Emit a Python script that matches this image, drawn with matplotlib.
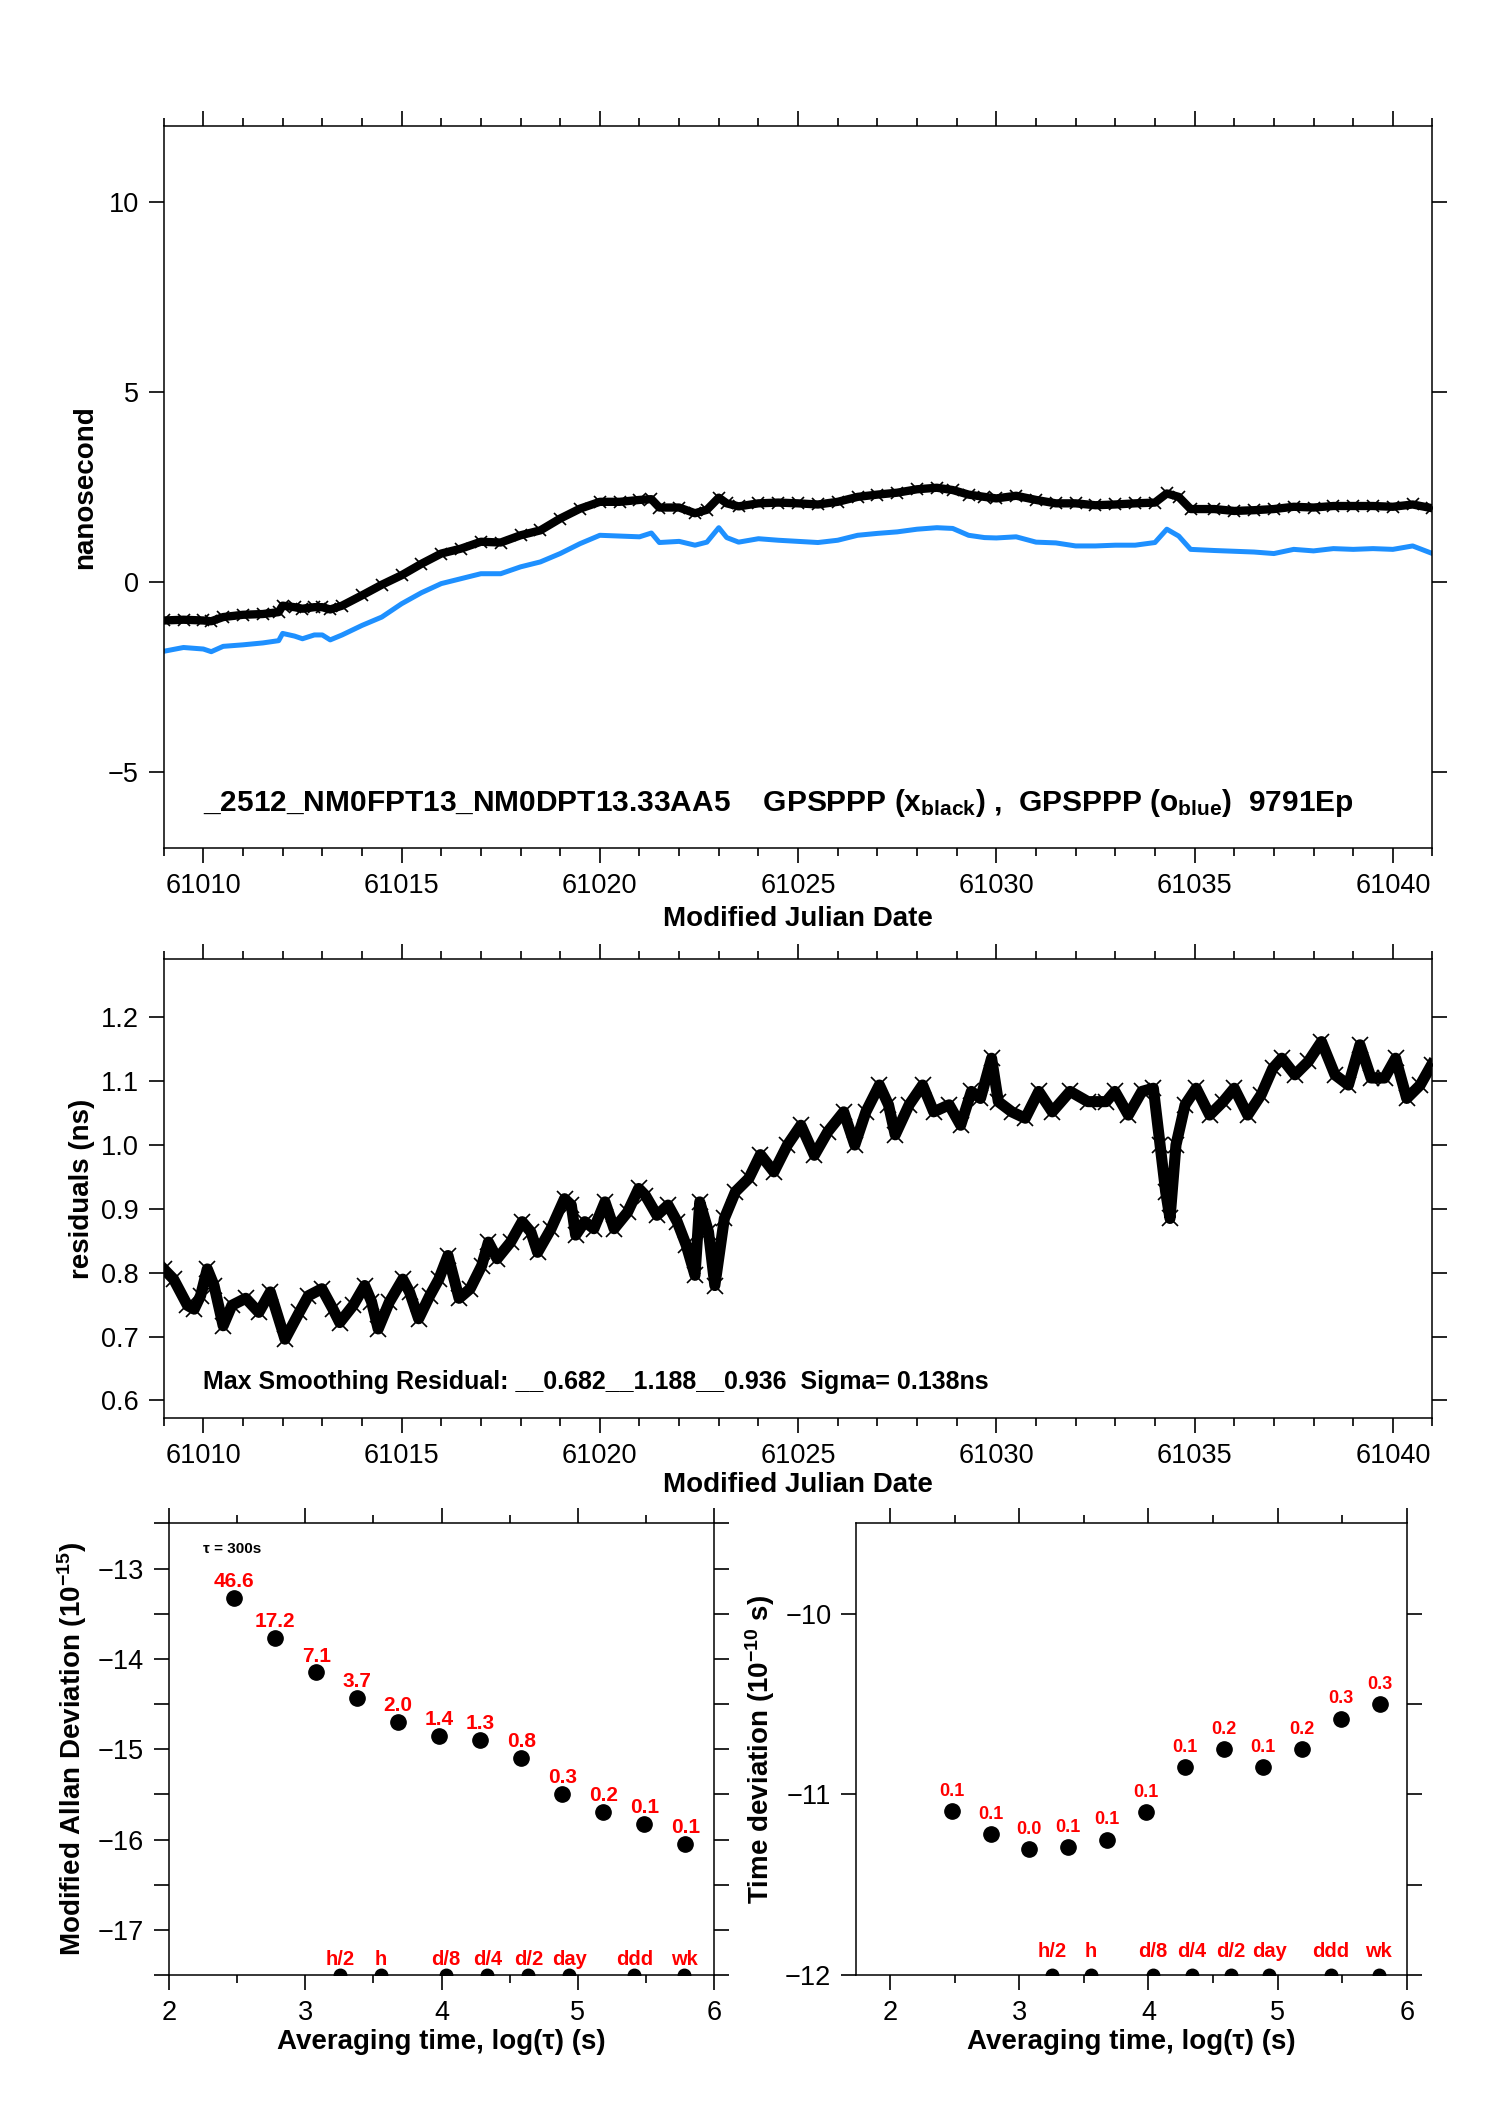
import matplotlib
matplotlib.use("Agg")
import matplotlib.pyplot as plt
import numpy as np

plt.rcParams['font.family'] = ['Liberation Sans', 'DejaVu Sans']
plt.rcParams['mathtext.fontset'] = 'custom'
plt.rcParams['mathtext.rm'] = 'Liberation Sans:bold'
plt.rcParams['mathtext.default'] = 'rm'

# ---- top panel: time offsets (ns) ----
mjd_top = [61009.0, 61009.5, 61010.0, 61010.2, 61010.5, 61011.0, 61011.5, 61011.9,
           61012.0, 61012.3, 61012.5, 61012.8, 61013.0, 61013.2, 61013.5, 61014.0,
           61014.5, 61015.0, 61015.5, 61016.0, 61016.5, 61017.0, 61017.5, 61018.0,
           61018.5, 61019.0, 61019.5, 61020.0, 61020.5, 61021.0, 61021.3, 61021.5,
           61022.0, 61022.4, 61022.7, 61023.0, 61023.2, 61023.5, 61024.0, 61024.5,
           61025.0, 61025.5, 61026.0, 61026.5, 61027.0, 61027.5, 61028.0, 61028.5,
           61028.9, 61029.3, 61029.7, 61030.0, 61030.5, 61031.0, 61031.5, 61032.0,
           61032.5, 61033.0, 61033.5, 61034.0, 61034.3, 61034.6, 61034.9, 61035.5,
           61036.0, 61036.5, 61037.0, 61037.5, 61038.0, 61038.5, 61039.0, 61039.5,
           61040.0, 61040.5, 61041.0]
black_ns = [-1.01, -0.99, -1.01, -1.03, -0.92, -0.86, -0.84, -0.79,
            -0.62, -0.66, -0.70, -0.66, -0.66, -0.72, -0.62, -0.35,
            -0.07, 0.18, 0.48, 0.75, 0.88, 1.06, 1.04, 1.23,
            1.36, 1.67, 1.93, 2.11, 2.11, 2.16, 2.18, 1.96,
            1.96, 1.81, 1.90, 2.22, 2.07, 1.99, 2.07, 2.09,
            2.07, 2.04, 2.11, 2.24, 2.30, 2.35, 2.44, 2.48,
            2.42, 2.30, 2.24, 2.20, 2.27, 2.16, 2.07, 2.07,
            2.02, 2.04, 2.07, 2.09, 2.33, 2.24, 1.92, 1.92,
            1.87, 1.89, 1.92, 1.98, 1.96, 2.00, 2.00, 2.00,
            1.98, 2.04, 1.94]
blue_ns = [-1.82, -1.72, -1.76, -1.83, -1.69, -1.65, -1.60, -1.54,
           -1.35, -1.42, -1.49, -1.39, -1.39, -1.52, -1.39, -1.14,
           -0.92, -0.57, -0.28, -0.04, 0.09, 0.22, 0.22, 0.40,
           0.53, 0.75, 1.01, 1.23, 1.21, 1.19, 1.29, 1.04,
           1.07, 0.97, 1.05, 1.43, 1.17, 1.05, 1.14, 1.10,
           1.07, 1.04, 1.10, 1.23, 1.28, 1.32, 1.39, 1.43,
           1.41, 1.23, 1.17, 1.16, 1.19, 1.05, 1.03, 0.95,
           0.95, 0.97, 0.97, 1.04, 1.39, 1.21, 0.86, 0.83,
           0.81, 0.79, 0.75, 0.86, 0.82, 0.88, 0.86, 0.88,
           0.86, 0.95, 0.75]

# ---- middle panel: residuals (ns) ----
mjd_res = [61009.0, 61009.25, 61009.6, 61009.77, 61009.93, 61010.1, 61010.27, 61010.5,
           61010.72, 61011.07, 61011.4, 61011.69, 61012.06, 61012.42, 61012.65, 61012.99,
           61013.27, 61013.44, 61013.78, 61014.07, 61014.24, 61014.41, 61014.69, 61015.03,
           61015.2, 61015.43, 61015.71, 61015.94, 61016.17, 61016.45, 61016.73, 61017.02,
           61017.19, 61017.41, 61017.75, 61018.04, 61018.26, 61018.43, 61018.77, 61019.11,
           61019.28, 61019.39, 61019.62, 61019.85, 61020.13, 61020.36, 61020.7, 61020.98,
           61021.15, 61021.44, 61021.72, 61021.95, 61022.18, 61022.4, 61022.52, 61022.74,
           61022.9, 61023.14, 61023.42, 61023.76, 61024.05, 61024.39, 61024.73, 61025.07,
           61025.41, 61025.75, 61026.15, 61026.43, 61026.71, 61027.05, 61027.28, 61027.45,
           61027.8, 61028.14, 61028.42, 61028.81, 61029.1, 61029.37, 61029.6, 61029.88,
           61030.05, 61030.39, 61030.73, 61031.07, 61031.41, 61031.86, 61032.31, 61032.77,
           61032.99, 61033.33, 61033.67, 61033.96, 61034.13, 61034.27, 61034.38, 61034.53,
           61034.76, 61035.04, 61035.38, 61035.72, 61036.0, 61036.34, 61036.68, 61036.97,
           61037.2, 61037.53, 61037.87, 61038.2, 61038.54, 61038.88, 61039.17, 61039.45,
           61039.79, 61040.07, 61040.35, 61040.69, 61040.98]
resid = [0.806, 0.79, 0.749, 0.743, 0.764, 0.806, 0.78, 0.717,
         0.749, 0.76, 0.738, 0.77, 0.696, 0.738, 0.764, 0.775,
         0.743, 0.722, 0.749, 0.78, 0.755, 0.712, 0.754, 0.79,
         0.77, 0.728, 0.764, 0.79, 0.827, 0.76, 0.775, 0.811,
         0.848, 0.822, 0.848, 0.88, 0.864, 0.832, 0.869, 0.916,
         0.906, 0.859, 0.88, 0.869, 0.911, 0.869, 0.895, 0.932,
         0.921, 0.89, 0.906, 0.88, 0.843, 0.796, 0.911, 0.864,
         0.78, 0.885, 0.927, 0.948, 0.985, 0.958, 1.0, 1.031,
         0.984, 1.021, 1.052, 1.0, 1.052, 1.094, 1.063, 1.016,
         1.063, 1.094, 1.052, 1.063, 1.031, 1.084, 1.073, 1.136,
         1.068, 1.052, 1.042, 1.084, 1.052, 1.084, 1.068, 1.068,
         1.084, 1.047, 1.084, 1.089, 1.0, 0.927, 0.885, 1.0,
         1.063, 1.089, 1.047, 1.068, 1.089, 1.047, 1.079, 1.12,
         1.136, 1.11, 1.131, 1.162, 1.11, 1.094, 1.157, 1.105,
         1.105, 1.136, 1.073, 1.094, 1.126]

# ---- stability panels ----
tau_s = [300, 600, 1200, 2400, 4800, 9600, 19200, 38400, 76800, 153600, 307200, 614400]
log_mdev = [-13.33, -13.77, -14.15, -14.43, -14.70, -14.85, -14.90, -15.10,
            -15.50, -15.69, -15.83, -16.05]
mdev_err = ['46.6', '17.2', '7.1', '3.7', '2.0', '1.4', '1.3', '0.8', '0.3', '0.2', '0.1', '0.1']
log_tdev = [-11.09, -11.22, -11.30, -11.29, -11.25, -11.10, -10.85, -10.75,
            -10.85, -10.75, -10.58, -10.50]
tdev_err = ['0.1', '0.1', '0.0', '0.1', '0.1', '0.1', '0.1', '0.2', '0.1', '0.2', '0.3', '0.3']
mark_s = [1800, 3600, 10800, 21600, 43200, 86400, 259200, 604800]
mark_lbl = ['h/2', 'h', 'd/8', 'd/4', 'd/2', 'day', 'ddd', 'wk']

fig = plt.figure(figsize=(14.88, 21.05), dpi=100)
ax1 = fig.add_axes([0.110, 0.597, 0.8527, 0.3433])
ax2 = fig.add_axes([0.110, 0.3265, 0.8527, 0.2178])
ax3 = fig.add_axes([0.1136, 0.0617, 0.3664, 0.2146])
ax4 = fig.add_axes([0.5755, 0.0617, 0.3700, 0.2146])

for ax in (ax1, ax2, ax3, ax4):
    ax.tick_params(which='both', direction='out', top=True, right=True,
                   labelsize=19.5, width=1.2, pad=7)
    ax.tick_params(which='major', length=11)
    ax.tick_params(which='minor', length=5.5)
    for sp in ax.spines.values():
        sp.set_linewidth(1.1)

# top panel
ax1.plot(mjd_top, black_ns, color='black', lw=6)
ax1.plot(mjd_top, black_ns, 'x', color='black', ms=8, mew=1.2)
ax1.plot(mjd_top, blue_ns, color='#1e90ff', lw=3.6)
ax1.set_xlim(61009, 61041)
ax1.set_ylim(-7, 12)
ax1.set_xticks(np.arange(61010, 61041, 5))
ax1.set_xticks(np.arange(61009, 61042, 1), minor=True)
ax1.set_yticks([-5, 0, 5, 10])
ax1.set_yticklabels(['\u22125', '0', '5', '10'])
ax1.set_ylabel('nanosecond', fontsize=20, fontweight='bold')
ax1.yaxis.set_label_coords(-0.052, 0.5)
ax1.set_xlabel('Modified Julian Date', fontsize=20, fontweight='bold')
ax1.xaxis.set_label_coords(0.5, -0.08)
ax1.text(61010.0, -5.8,
         r"_2512_NM0FPT13_NM0DPT13.33AA5    GPSPPP (x$_{\mathrm{black}}$) ,  GPSPPP (o$_{\mathrm{blue}}$)  9791Ep",
         fontsize=21.5, fontweight='bold', va='center', ha='left')

# middle panel
ax2.plot(mjd_res, resid, color='black', lw=8)
ax2.plot(mjd_res, resid, 'x', color='black', ms=11, mew=1.2)
ax2.set_xlim(61009, 61041)
ax2.set_ylim(0.573, 1.291)
ax2.set_xticks(np.arange(61010, 61041, 5))
ax2.set_xticks(np.arange(61009, 61042, 1), minor=True)
ax2.set_yticks([0.6, 0.7, 0.8, 0.9, 1.0, 1.1, 1.2])
ax2.set_yticklabels(['0.6', '0.7', '0.8', '0.9', '1.0', '1.1', '1.2'])
ax2.set_ylabel('residuals (ns)', fontsize=20, fontweight='bold')
ax2.yaxis.set_label_coords(-0.054, 0.5)
ax2.set_xlabel('Modified Julian Date', fontsize=20, fontweight='bold')
ax2.xaxis.set_label_coords(0.5, -0.118)
ax2.text(61010.0, 0.629,
         'Max Smoothing Residual: __0.682__1.188__0.936  Sigma= 0.138ns',
         fontsize=18, fontweight='bold', va='center', ha='left')

# bottom-left: modified Allan deviation
x_tau = np.log10(tau_s)
x_mark = np.log10(mark_s)
ax3.plot(x_tau, log_mdev, 'o', color='black', ms=11)
for xv, yv, s in zip(x_tau, log_mdev, mdev_err):
    ax3.annotate(s, (xv, yv), xytext=(0, 5), textcoords='offset points',
                 ha='center', va='bottom', color='red', fontsize=15, fontweight='bold')
ax3.plot(x_mark, [-17.5] * len(x_mark), 'o', color='black', ms=9)
for xv, s in zip(x_mark, mark_lbl):
    ax3.text(xv, -17.33, s, ha='center', va='center', color='red',
             fontsize=14.5, fontweight='bold')
ax3.text(2.25, -12.78, '\u03c4 = 300s', fontsize=11, fontweight='bold', va='center')
ax3.set_xlim(2, 6)
ax3.set_ylim(-17.5, -12.5)
ax3.set_xticks([2, 3, 4, 5, 6])
ax3.set_xticks(np.arange(2.5, 6, 1.0), minor=True)
ax3.set_yticks([-13, -14, -15, -16, -17])
ax3.set_yticklabels(['\u221213', '\u221214', '\u221215', '\u221216', '\u221217'])
ax3.set_yticks(np.arange(-17.5, -12.4, 0.5), minor=True)
ax3.tick_params(axis='y', which='minor', length=11)
ax3.set_xlabel('Averaging time, log(\u03c4) (s)', fontsize=20, fontweight='bold')
ax3.xaxis.set_label_coords(0.5, -0.12)
ax3.set_ylabel(r'Modified Allan Deviation (10$^{-15}$)', fontsize=20, fontweight='bold')
ax3.yaxis.set_label_coords(-0.146, 0.5)

# bottom-right: time deviation
ax4.plot(x_tau, log_tdev, 'o', color='black', ms=11)
for xv, yv, s in zip(x_tau, log_tdev, tdev_err):
    ax4.annotate(s, (xv, yv), xytext=(0, 8), textcoords='offset points',
                 ha='center', va='bottom', color='red', fontsize=13, fontweight='bold')
ax4.plot(x_mark, [-12.0] * len(x_mark), 'o', color='black', ms=9)
for xv, s in zip(x_mark, mark_lbl):
    ax4.text(xv, -11.87, s, ha='center', va='center', color='red',
             fontsize=14.5, fontweight='bold')
ax4.set_xlim(1.74, 6)
ax4.set_ylim(-12, -9.5)
ax4.set_xticks([2, 3, 4, 5, 6])
ax4.set_xticks(np.arange(2.5, 6, 1.0), minor=True)
ax4.set_yticks([-10, -11, -12])
ax4.set_yticklabels(['\u221210', '\u221211', '\u221212'])
ax4.set_yticks([-10.5, -11.5], minor=True)
ax4.tick_params(axis='y', which='minor', left=False, right=True, length=11)
ax4.set_xlabel('Averaging time, log(\u03c4) (s)', fontsize=20, fontweight='bold')
ax4.xaxis.set_label_coords(0.5, -0.12)
ax4.set_ylabel(r'Time deviation (10$^{-10}$ s)', fontsize=20, fontweight='bold')
ax4.yaxis.set_label_coords(-0.145, 0.5)

fig.savefig('out.png', dpi=100)
plt.close(fig)
